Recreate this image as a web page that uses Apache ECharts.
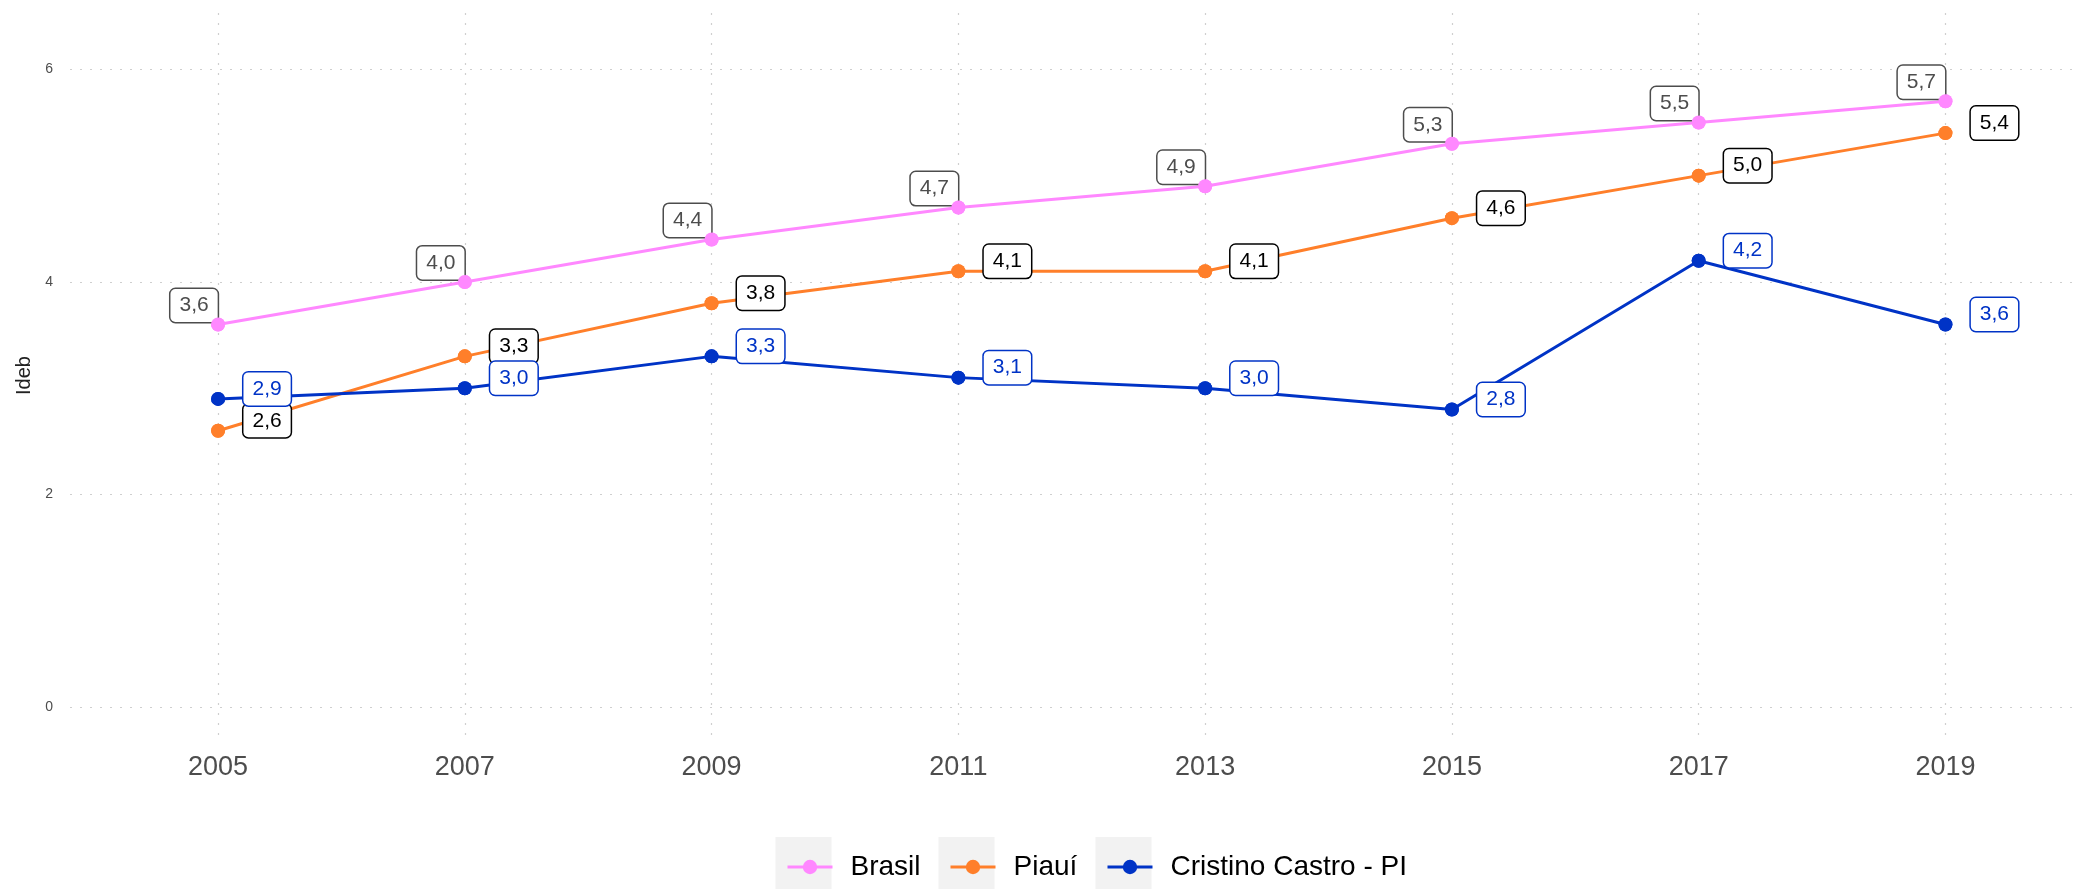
<!DOCTYPE html>
<html>
<head>
<meta charset="utf-8">
<title>Ideb</title>
<script src="https://cdn.jsdelivr.net/npm/echarts@6/dist/echarts.min.js"></script>
<style>
  html, body { margin: 0; padding: 0; background: #ffffff; }
  #chart { width: 2080px; height: 889px; }
</style>
</head>
<body>
<div id="chart"></div>
<script>
// Ideb results by year
const years = [2005, 2007, 2009, 2011, 2013, 2015, 2017, 2019];
const brasil = [3.6, 4.0, 4.4, 4.7, 4.9, 5.3, 5.5, 5.7];
const piaui = [2.6, 3.3, 3.8, 4.1, 4.1, 4.6, 5.0, 5.4];
const cristino = [2.9, 3.0, 3.3, 3.1, 3.0, 2.8, 4.2, 3.6];
const yTicks = [0, 2, 4, 6];
const seriesNames = ['Brasil', 'Piauí', 'Cristino Castro - PI'];

const FONT = "'Liberation Sans', Arial, Helvetica, sans-serif";
const COLORS = ['#ff88ff', '#ff7f2a', '#0033c6'];
const LABEL_TEXT = ['#4d4d4d', '#000000', '#0033c6'];
const LABEL_OFFSETS = [[-24, -19], [49, -10], [49, -10]];

const fmt = v => v.toFixed(1).replace('.', ',');
const pairs = values => years.map((y, i) => [y, values[i]]);

// line + value label for each series
function makeLine(name, values, idx) {
  return {
    name: name,
    type: 'line',
    data: pairs(values),
    symbol: 'circle',
    symbolSize: 14,
    z: 2,
    lineStyle: { color: COLORS[idx], width: 3 },
    itemStyle: { color: COLORS[idx] },
    label: {
      show: true,
      position: 'inside',
      offset: LABEL_OFFSETS[idx],
      formatter: p => fmt(p.value[1]),
      fontFamily: FONT,
      fontSize: 21,
      lineHeight: 23,
      color: LABEL_TEXT[idx],
      backgroundColor: '#ffffff',
      borderColor: LABEL_TEXT[idx],
      borderWidth: 1.5,
      borderRadius: 5,
      padding: [5, 9]
    },
    emphasis: { disabled: true },
    animation: false
  };
}

// points drawn above the labels
function makePoints(name, values, idx) {
  return {
    name: name,
    type: 'scatter',
    data: pairs(values),
    symbol: 'circle',
    symbolSize: 14,
    z: 5,
    itemStyle: { color: COLORS[idx], opacity: 1 },
    emphasis: { disabled: true },
    animation: false
  };
}

const gridLine = { show: true, lineStyle: { color: '#cfcfcf', width: 1.2, type: [2, 8] } };

// one legend block per series, each keyed by a light grey square
const legendLefts = [781, 944, 1101];
const legends = seriesNames.map((n, i) => ({
  data: [n],
  left: legendLefts[i],
  top: 848,
  itemWidth: 45,
  itemHeight: 18,
  selectedMode: false,
  lineStyle: { width: 3 },
  textStyle: { fontFamily: FONT, fontSize: 28, color: '#000000', padding: [0, 0, 0, 13] }
}));
const keyBoxes = legendLefts.map(x => ({
  type: 'rect',
  left: x - 5.5,
  top: 837,
  z: -1,
  shape: { width: 56, height: 60 },
  style: { fill: '#f2f2f2' }
}));

const chart = echarts.init(document.getElementById('chart'), null, { renderer: 'canvas' });
chart.setOption({
  backgroundColor: '#ffffff',
  animation: false,
  graphic: keyBoxes,
  legend: legends,
  grid: { left: 70, right: 5, top: 13, bottom: 151, containLabel: false },
  xAxis: {
    type: 'value',
    min: 2003.8,
    max: 2020.05,
    axisLine: { show: false },
    axisTick: { show: false, customValues: years },
    axisLabel: {
      customValues: years,
      fontFamily: FONT, fontSize: 27, color: '#4d4d4d', margin: 16,
      formatter: v => String(v)
    },
    splitLine: gridLine
  },
  yAxis: {
    type: 'value',
    min: -0.29,
    max: 6.53,
    name: 'Ideb',
    nameLocation: 'middle',
    nameGap: 35,
    nameRotate: 90,
    nameTextStyle: { fontFamily: FONT, fontSize: 20, color: '#222222' },
    axisLine: { show: false },
    axisTick: { show: false, customValues: yTicks },
    axisLabel: {
      customValues: yTicks,
      fontFamily: FONT, fontSize: 14, color: '#4d4d4d', margin: 17
    },
    splitLine: gridLine
  },
  series: [
    makeLine(seriesNames[0], brasil, 0),
    makeLine(seriesNames[1], piaui, 1),
    makeLine(seriesNames[2], cristino, 2),
    makePoints(seriesNames[0], brasil, 0),
    makePoints(seriesNames[1], piaui, 1),
    makePoints(seriesNames[2], cristino, 2)
  ]
});
</script>
</body>
</html>
